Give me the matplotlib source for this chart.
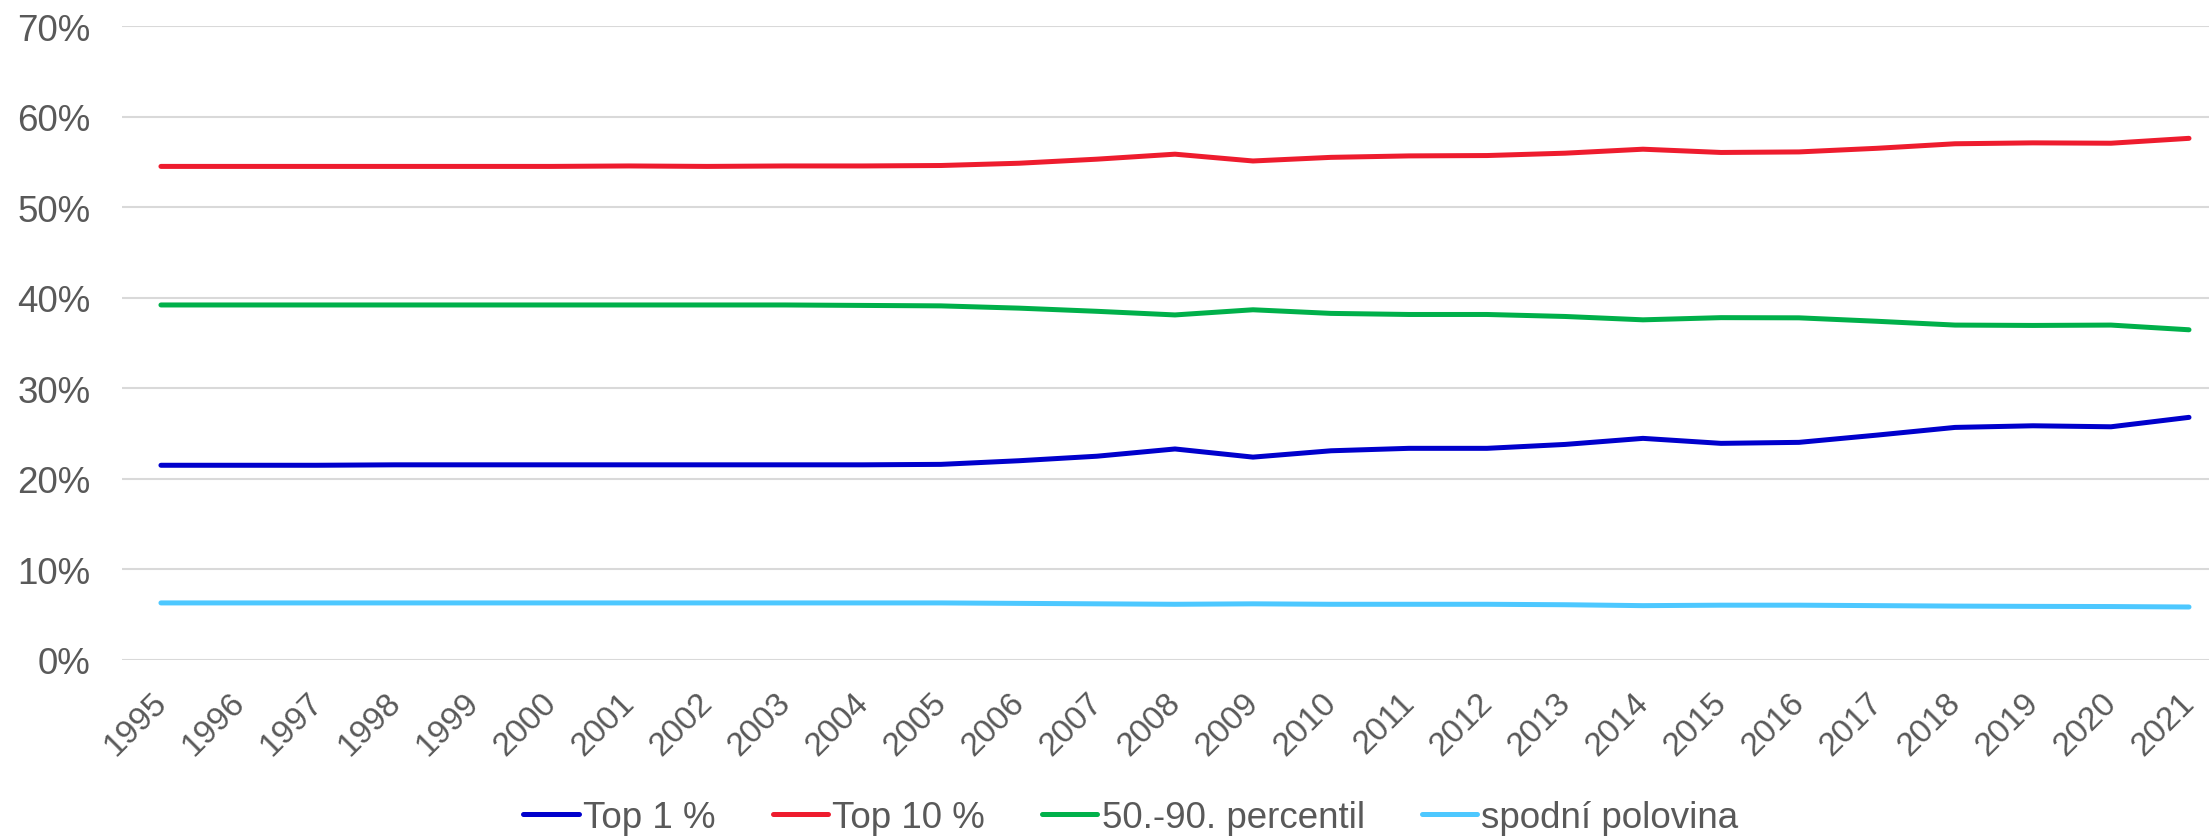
import numpy as np
import matplotlib.pyplot as plt
import matplotlib.transforms as mtransforms
from matplotlib.ticker import PercentFormatter

years = list(range(1995, 2022))

top1 = [21.5, 21.5, 21.5, 21.55, 21.55, 21.55, 21.55, 21.55, 21.55, 21.55, 21.6,
        22.0, 22.5, 23.3, 22.4, 23.1, 23.37, 23.37, 23.8, 24.47, 23.92,
        24.03, 24.83, 25.68, 25.86, 25.75, 26.79]
top10 = [54.5, 54.5, 54.5, 54.5, 54.5, 54.5, 54.55, 54.5, 54.55, 54.55, 54.6,
         54.85, 55.3, 55.85, 55.1, 55.5, 55.66, 55.7, 55.96, 56.4, 56.04,
         56.1, 56.5, 57.0, 57.1, 57.06, 57.6]
mid40 = [39.2, 39.2, 39.2, 39.2, 39.2, 39.2, 39.2, 39.2, 39.2, 39.15, 39.1,
         38.85, 38.5, 38.1, 38.67, 38.27, 38.15, 38.15, 37.93, 37.56, 37.8,
         37.78, 37.4, 36.98, 36.94, 36.98, 36.46]
bottom50 = [6.3, 6.3, 6.3, 6.3, 6.3, 6.3, 6.3, 6.3, 6.3, 6.3, 6.3,
            6.25, 6.2, 6.15, 6.2, 6.15, 6.15, 6.15, 6.1, 6.0, 6.05,
            6.05, 6.0, 5.95, 5.92, 5.9, 5.85]

labels = ["Top 1 %", "Top 10 %", "50.-90. percentil", "spodní polovina"]
colors = ["#0000CC", "#EE1C2E", "#00B04A", "#4DC8FF"]

plt.rcParams['font.family'] = ['Liberation Sans', 'DejaVu Sans']
text_color = "#595959"

fig = plt.figure(figsize=(22.09, 8.37), dpi=100)
ax = fig.add_axes([0.0552, 0.2103, 0.9534, 0.7574])

x = np.arange(len(years))
for series, lab, col in zip([top1, top10, mid40, bottom50], labels, colors):
    ax.plot(x, np.array(series) / 100, color=col, lw=3.6, label=lab,
            solid_capstyle='round', solid_joinstyle='round')

ax.set_xlim(-0.5, len(years) - 0.5)
ax.set_ylim(0, 0.7)
ax.set_yticks(np.arange(0, 0.71, 0.1))
ax.yaxis.set_major_formatter(PercentFormatter(1.0, decimals=0))
ax.set_xticks(x)
ax.set_xticklabels([str(y) for y in years], rotation=45, ha='right')

ax.grid(axis='y', color='#D9D9D9', lw=1.5)
ax.set_axisbelow(True)
for s in ax.spines.values():
    s.set_visible(False)
ax.tick_params(axis='both', length=0, colors=text_color)
ax.tick_params(axis='y', pad=22.5, labelsize=26.5)
ax.tick_params(axis='x', pad=19.4, labelsize=24)

# nudge the rotated year labels a little to the right
shift = mtransforms.ScaledTranslation(0.12, 0, fig.dpi_scale_trans)
for lbl in ax.get_xticklabels():
    lbl.set_transform(lbl.get_transform() + shift)

leg = fig.legend(loc='center', bbox_to_anchor=(0.512, 0.022), ncol=4,
                 frameon=False, fontsize=26.5, handlelength=1.5,
                 handletextpad=0.12, columnspacing=1.55, borderpad=0)
for t in leg.get_texts():
    t.set_color(text_color)

fig.savefig("out.png", dpi=100)
